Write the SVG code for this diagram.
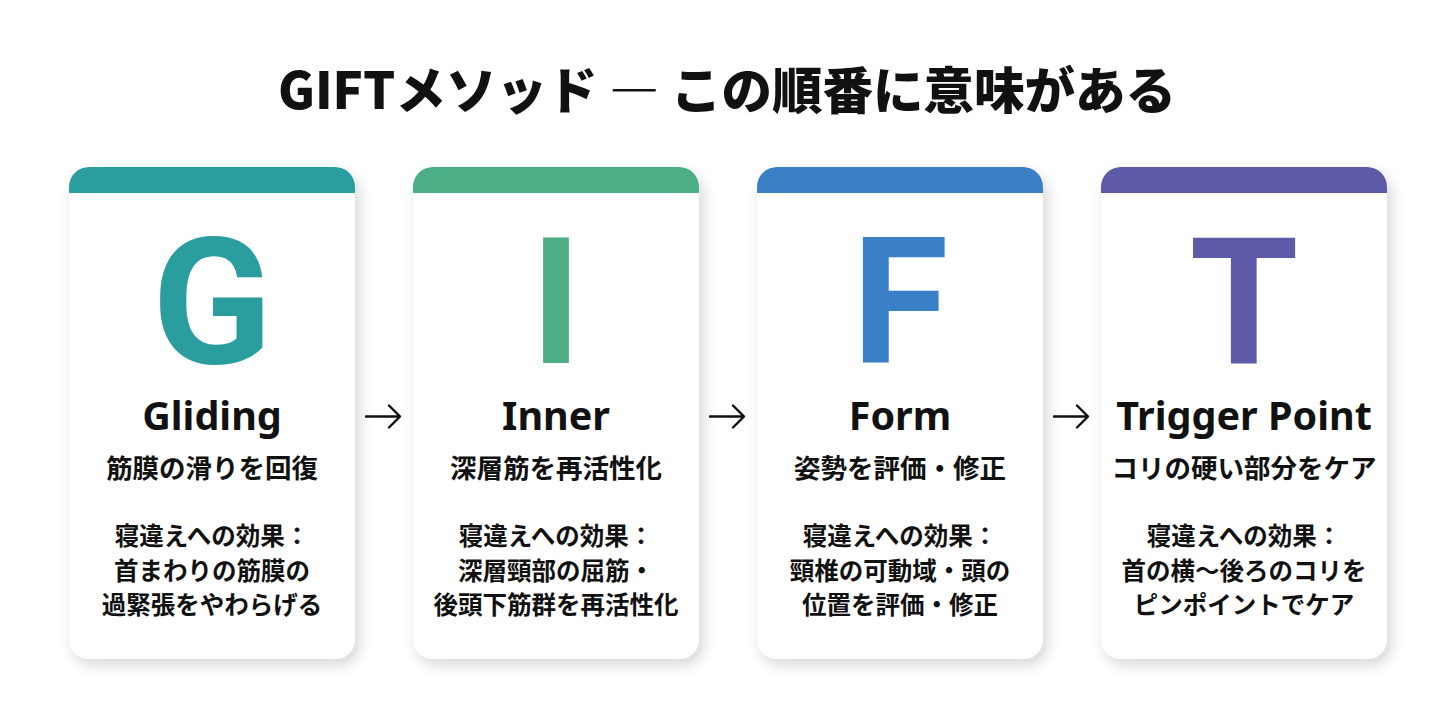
<svg xmlns="http://www.w3.org/2000/svg" width="1456" height="720" viewBox="0 0 1456 720">
  <defs>
    <filter id="shadow" x="-20%" y="-20%" width="140%" height="140%">
      <feDropShadow dx="4" dy="6" stdDeviation="7" flood-color="#000" flood-opacity="0.16"/>
    </filter>
    <style>
      .title{font-family:"Noto Sans CJK JP","Noto Sans",sans-serif;font-weight:900;font-size:50.5px;fill:#111;text-anchor:middle}
      .letter{font-family:Roboto,"Liberation Sans",sans-serif;font-weight:700;font-size:176px;text-anchor:middle}
      .name{font-family:"Noto Sans","Noto Sans CJK JP",sans-serif;font-weight:700;font-size:39.5px;fill:#111;text-anchor:middle}
      .sub{font-family:"Noto Sans CJK JP",sans-serif;font-weight:700;font-size:26.5px;fill:#111;text-anchor:middle}
      .eff{font-family:"Noto Sans CJK JP",sans-serif;font-weight:700;font-size:24.5px;fill:#111;text-anchor:middle}
      .card{fill:#fff}
      .arrow{fill:none;stroke:#111;stroke-width:2.4;stroke-linecap:round;stroke-linejoin:round}
    </style>
  </defs>
  <rect width="1456" height="720" fill="#fff"/>

  <text class="title" x="727" y="109">GIFTメソッド ― この順番に意味がある</text>

  <g id="card-g">
    <rect class="card" x="69" y="167" width="286" height="492" rx="20" filter="url(#shadow)"/>
    <path d="M69 193 V187 A20 20 0 0 1 89 167 H335 A20 20 0 0 1 355 187 V193 Z" fill="#2A9D9F"/>
    <text class="letter" x="212" y="363" fill="#2A9D9F">G</text>
    <text class="name" x="212" y="430">Gliding</text>
    <text class="sub" x="212" y="478">筋膜の滑りを回復</text>
    <text class="eff" x="212" y="545">寝違えへの効果：</text>
    <text class="eff" x="212" y="580">首まわりの筋膜の</text>
    <text class="eff" x="212" y="614">過緊張をやわらげる</text>
  </g>

  <g id="card-i">
    <rect class="card" x="413" y="167" width="286" height="492" rx="20" filter="url(#shadow)"/>
    <path d="M413 193 V187 A20 20 0 0 1 433 167 H679 A20 20 0 0 1 699 187 V193 Z" fill="#4BAE84"/>
    <text class="letter" x="556" y="363" fill="#4BAE84">I</text>
    <text class="name" x="556" y="430">Inner</text>
    <text class="sub" x="556" y="478">深層筋を再活性化</text>
    <text class="eff" x="556" y="545">寝違えへの効果：</text>
    <text class="eff" x="556" y="580">深層頸部の屈筋・</text>
    <text class="eff" x="556" y="614">後頭下筋群を再活性化</text>
  </g>

  <g id="card-f">
    <rect class="card" x="757" y="167" width="286" height="492" rx="20" filter="url(#shadow)"/>
    <path d="M757 193 V187 A20 20 0 0 1 777 167 H1023 A20 20 0 0 1 1043 187 V193 Z" fill="#3A80C6"/>
    <text class="letter" x="900" y="363" fill="#3A80C6">F</text>
    <text class="name" x="900" y="430">Form</text>
    <text class="sub" x="900" y="478">姿勢を評価・修正</text>
    <text class="eff" x="900" y="545">寝違えへの効果：</text>
    <text class="eff" x="900" y="580">頸椎の可動域・頭の</text>
    <text class="eff" x="900" y="614">位置を評価・修正</text>
  </g>

  <g id="card-t">
    <rect class="card" x="1101" y="167" width="286" height="492" rx="20" filter="url(#shadow)"/>
    <path d="M1101 193 V187 A20 20 0 0 1 1121 167 H1367 A20 20 0 0 1 1387 187 V193 Z" fill="#5D5BA8"/>
    <text class="letter" x="1244" y="363" fill="#5D5BA8">T</text>
    <text class="name" x="1244" y="430">Trigger Point</text>
    <text class="sub" x="1244" y="478">コリの硬い部分をケア</text>
    <text class="eff" x="1244" y="545">寝違えへの効果：</text>
    <text class="eff" x="1244" y="580">首の横～後ろのコリを</text>
    <text class="eff" x="1244" y="614">ピンポイントでケア</text>
  </g>

  <g id="connectors">
    <path class="arrow" d="M366 416.5 H400 M389 405.5 L400 416.5 L389 427.5"/>
    <path class="arrow" d="M710 416.5 H744 M733 405.5 L744 416.5 L733 427.5"/>
    <path class="arrow" d="M1054 416.5 H1088 M1077 405.5 L1088 416.5 L1077 427.5"/>
  </g>
</svg>
